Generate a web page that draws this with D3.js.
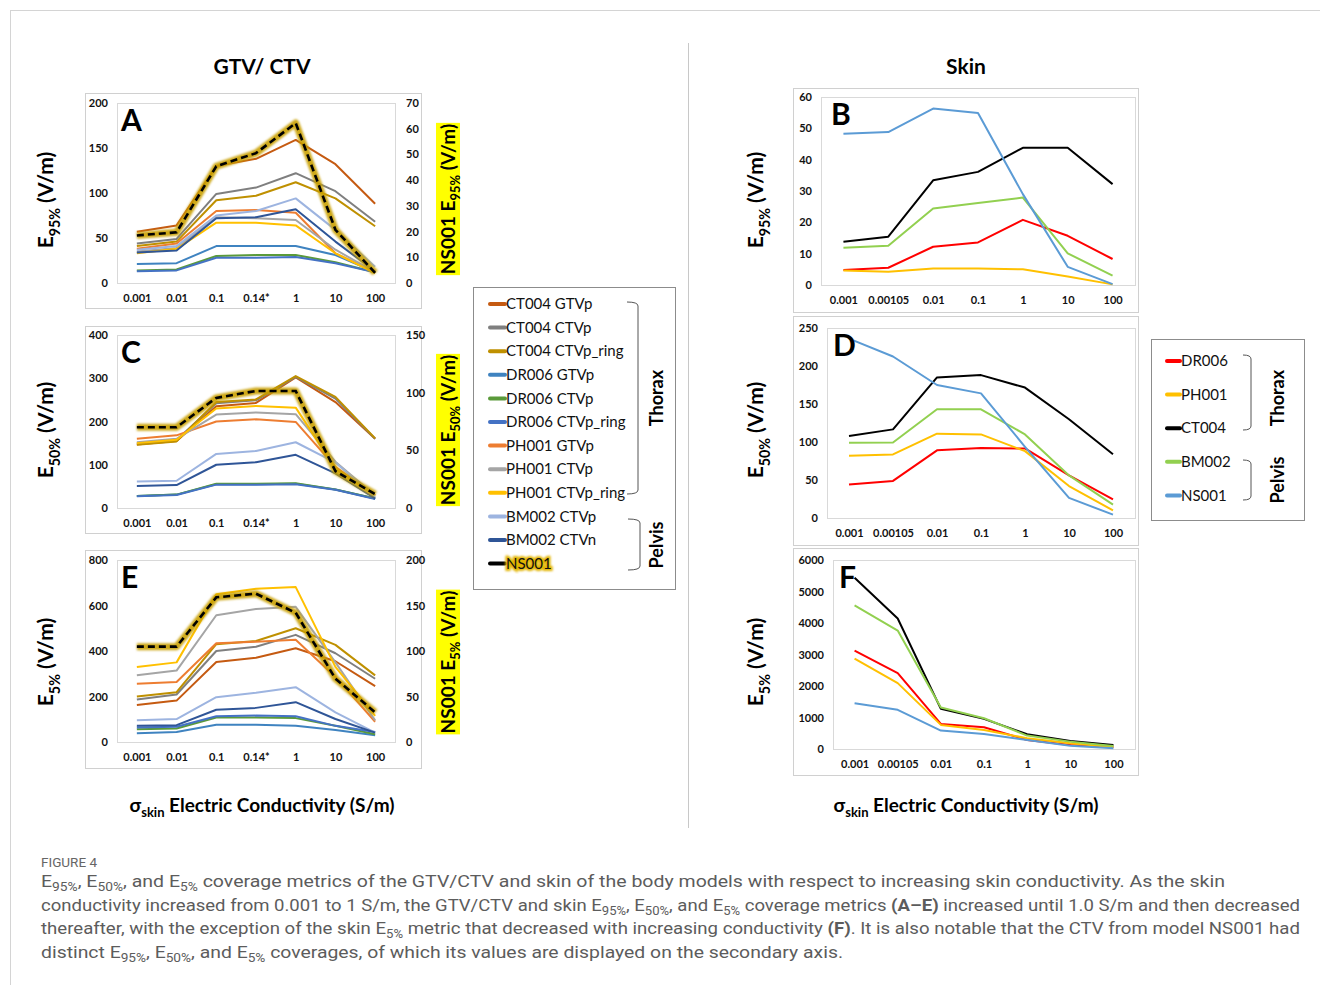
<!DOCTYPE html>
<html>
<head>
<meta charset="utf-8">
<script src="https://cdnjs.cloudflare.com/ajax/libs/d3/7.8.5/d3.min.js"></script>
<style>
  body { margin: 0; background: #fff; }
  svg { display: block; font-family: Lato, 'Open Sans', sans-serif; }
</style>
</head>
<body>
<div class="chart-container"></div>
<script>
// x categories (skin conductivity, S/m)
const tumorCats = ['0.001', '0.01', '0.1', '0.14*', '1', '10', '100'];
const skinCats = ['0.001', '0.00105', '0.01', '0.1', '1', '10', '100'];

// GTV / CTV series (legend order)
const tumorNames = ['CT004 GTVp', 'CT004 CTVp', 'CT004 CTVp_ring', 'DR006 GTVp', 'DR006 CTVp',
    'DR006 CTVp_ring', 'PH001 GTVp', 'PH001 CTVp', 'PH001 CTVp_ring', 'BM002 CTVp', 'BM002 CTVn'];
const tumorColors = ['#C55A11', '#7F7F7F', '#BF9000', '#3F83C0', '#5A9A3A',
    '#4472C4', '#ED7D31', '#A5A5A5', '#FFC000', '#9DB4E0', '#2F5597'];

// E95% (panel A), one row per tumor series
const tumorE95 = [
    [57, 64, 130, 138, 159, 132, 88],
    [44, 49, 99, 106, 122, 102, 68],
    [41, 46, 92, 97, 112, 94, 63],
    [21, 22, 41, 41, 41, 31, 12],
    [14, 15, 30, 31, 31, 23, 12],
    [13, 14, 28, 28, 29, 22, 12],
    [38, 44, 80, 81, 78, 33, 12],
    [35, 39, 73, 72, 70, 37, 12],
    [33, 38, 67, 67, 64, 33, 11],
    [37, 41, 75, 80, 94, 59, 18],
    [34, 36, 72, 73, 82, 46, 13]
];
const ns001E95 = [18.5, 19.7, 45.4, 50.5, 62.2, 20.7, 3.9];

// E50% (panel C)
const tumorE50 = [
    [147, 155, 235, 243, 302, 245, 160],
    [149, 157, 242, 249, 303, 253, 160],
    [146, 154, 245, 251, 305, 257, 161],
    [28, 31, 55, 55, 56, 43, 22],
    [28, 31, 56, 56, 57, 43, 22],
    [27, 30, 54, 54, 55, 42, 21],
    [160, 168, 200, 205, 199, 95, 29],
    [152, 160, 216, 221, 217, 107, 29],
    [150, 158, 230, 236, 232, 91, 29],
    [61, 63, 125, 132, 152, 105, 25],
    [51, 53, 100, 106, 123, 80, 22]
];
const ns001E50 = [70, 70, 95.5, 101.5, 101.5, 32, 12];

// E5% (panel E)
const tumorE5 = [
    [163, 182, 352, 370, 412, 355, 246],
    [187, 209, 400, 419, 471, 390, 278],
    [200, 219, 430, 444, 500, 427, 293],
    [39, 44, 76, 76, 71, 53, 30],
    [56, 59, 108, 108, 105, 71, 34],
    [64, 67, 113, 116, 113, 71, 44],
    [256, 264, 434, 441, 449, 286, 89],
    [293, 314, 557, 585, 594, 350, 95],
    [330, 350, 649, 674, 681, 330, 115],
    [96, 101, 197, 216, 241, 130, 41],
    [71, 74, 142, 150, 175, 101, 41]
];
const ns001E5 = [104.8, 104.8, 159, 163, 142, 69.6, 32.6];

// Skin series
const skinNames = ['DR006', 'PH001', 'CT004', 'BM002', 'NS001'];
const skinColors = ['#FF0000', '#FFC000', '#000000', '#92D050', '#5B9BD5'];
const skinE95 = [
    [4.8, 5.5, 12.2, 13.6, 20.8, 15.7, 8.3],
    [4.6, 4.2, 5.3, 5.3, 5.0, 2.7, 0.2],
    [13.8, 15.4, 33.4, 36.1, 43.8, 43.8, 32.2],
    [11.9, 12.5, 24.4, 26.2, 27.9, 10.1, 3.0],
    [48.3, 48.8, 56.3, 54.9, 29, 5.8, 0.3]
];
const skinE50 = [
    [44, 48.8, 89, 92, 91.5, 56, 24.6],
    [81.8, 83.6, 111, 110, 88, 42, 10],
    [108, 116.6, 185, 188, 171.6, 130, 84],
    [99, 99.4, 143, 143, 110, 56, 17.6],
    [236, 212.5, 175, 164, 93.7, 26.4, 4.4]
];
const skinE5 = [
    [3122, 2411, 797, 690, 287, 127, 64],
    [2867, 2092, 765, 605, 340, 180, 53],
    [5437, 4142, 1274, 956, 467, 255, 127],
    [4556, 3759, 1317, 977, 425, 234, 96],
    [1455, 1243, 584, 478, 287, 106, 21]
];

const W = 1320, H = 985;
const svg = d3.select('.chart-container')
    .append('svg')
    .attr('width', W)
    .attr('height', H);

// glow filter for the NS001 line
const defs = svg.append('defs');
defs.append('filter').attr('id', 'glow')
    .attr('x', '-10%').attr('y', '-10%').attr('width', '120%').attr('height', '120%')
    .append('feGaussianBlur').attr('stdDeviation', 1.3);

// outer frame + divider
svg.append('rect')
    .attr('x', 10.5).attr('y', 10.5).attr('width', 1330).attr('height', 1000)
    .attr('fill', 'none').attr('stroke', '#d4d4d4');
svg.append('line')
    .attr('x1', 688.5).attr('x2', 688.5).attr('y1', 43).attr('y2', 828)
    .attr('stroke', '#c8c8c8');

// text with subscripts: parts = [[text, isSub], ...]
function richText(sel, parts, subSize, shift) {
    let down = 0;
    parts.forEach(([t, sub]) => {
        const ts = sel.append('tspan').text(t);
        if (sub) {
            ts.attr('font-size', subSize).attr('dy', shift);
            down = shift;
        } else if (down) {
            ts.attr('dy', -down);
            down = 0;
        }
    });
    return sel;
}

function drawPanel(cfg) {
    const [bx0, by0, bx1, by1] = cfg.box;
    const [px0, py0, px1, py1] = cfg.plot;
    const g = svg.append('g');

    g.append('rect')
        .attr('x', bx0 + 0.5).attr('y', by0 + 0.5)
        .attr('width', bx1 - bx0).attr('height', by1 - by0)
        .attr('fill', '#fff').attr('stroke', '#d0d0d0');
    g.append('rect')
        .attr('x', px0 + 0.5).attr('y', py0 + 0.5)
        .attr('width', px1 - px0).attr('height', py1 - py0)
        .attr('fill', 'none').attr('stroke', '#d9d9d9');

    const x = d3.scalePoint().domain(cfg.cats).range([px0, px1]).padding(0.5);
    const y = d3.scaleLinear().domain([0, cfg.yMax]).range([py1, py0]);

    // Y axis (left)
    g.append('g')
        .attr('transform', `translate(${px0},0)`)
        .call(d3.axisLeft(y).tickValues(d3.range(0, cfg.yMax + 1, cfg.yStep))
            .tickFormat(d3.format('d')).tickSize(0).tickPadding(9))
        .call(a => a.select('.domain').remove());

    // X axis
    g.append('g')
        .attr('transform', `translate(0,${py1})`)
        .call(d3.axisBottom(x).tickSize(0).tickPadding(cfg.xPad || 11))
        .call(a => a.select('.domain').remove());

    g.selectAll('.tick text')
        .attr('font-family', 'Lato, sans-serif')
        .attr('font-weight', 'bold')
        .attr('font-size', 11)
        .attr('fill', '#111');

    const line = d3.line().x((d, i) => x(cfg.cats[i]));

    // Series
    cfg.series.forEach((s, k) => {
        g.append('path')
            .datum(s)
            .attr('fill', 'none')
            .attr('stroke', cfg.colors[k])
            .attr('stroke-width', 2)
            .attr('stroke-linejoin', 'round')
            .attr('d', line.y(d => y(d)));
    });

    // NS001 on secondary axis
    if (cfg.y2Max) {
        const y2 = d3.scaleLinear().domain([0, cfg.y2Max]).range([py1, py0]);
        g.append('g')
            .attr('transform', `translate(${px1},0)`)
            .call(d3.axisRight(y2).tickValues(d3.range(0, cfg.y2Max + 1, cfg.y2Step)).tickSize(0).tickPadding(11))
            .call(a => a.select('.domain').remove())
            .selectAll('text')
            .attr('font-family', 'Lato, sans-serif')
            .attr('font-weight', 'bold')
            .attr('font-size', 11)
            .attr('fill', '#111');

        const line2 = d3.line().x((d, i) => x(cfg.cats[i])).y(d => y2(d));
        g.append('path')
            .datum(cfg.ns001)
            .attr('fill', 'none')
            .attr('stroke', '#C9A000')
            .attr('stroke-opacity', 0.9)
            .attr('stroke-width', 7)
            .attr('stroke-linejoin', 'round')
            .attr('filter', 'url(#glow)')
            .attr('d', line2);
        g.append('path')
            .datum(cfg.ns001)
            .attr('fill', 'none')
            .attr('stroke', '#000')
            .attr('stroke-width', 2.6)
            .attr('stroke-dasharray', '7,4')
            .attr('d', line2);
    }

    // panel letter
    g.append('text')
        .attr('x', px0 + cfg.letterDx)
        .attr('y', py0 + 28)
        .attr('font-size', 30)
        .attr('font-weight', 'bold')
        .text(cfg.letter);
}

// rotated axis title with subscript, optional yellow highlight
function axisTitle(cx, cy, parts, size, highlight) {
    const g = svg.append('g').attr('transform', `translate(${cx},${cy}) rotate(-90)`);
    const t = g.append('text')
        .attr('text-anchor', 'middle')
        .attr('dy', '0.35em')
        .attr('font-size', size)
        .attr('font-weight', 'bold');
    richText(t, parts, size * 0.68, size * 0.3);
    if (highlight) {
        const bb = t.node().getBBox();
        g.insert('rect', 'text')
            .attr('x', bb.x - 1).attr('y', -12)
            .attr('width', bb.width + 2).attr('height', 24)
            .attr('fill', '#FFFF00');
    }
}

// ---- left column : GTV / CTV ----
drawPanel({
    box: [85, 93, 421, 308], plot: [117, 103, 395, 283], cats: tumorCats,
    yMax: 200, yStep: 50, y2Max: 70, y2Step: 10,
    series: tumorE95, colors: tumorColors, ns001: ns001E95, letter: 'A', letterDx: 4
});
drawPanel({
    box: [85, 326, 421, 533], plot: [117, 335, 395, 508], cats: tumorCats,
    yMax: 400, yStep: 100, y2Max: 150, y2Step: 50,
    series: tumorE50, colors: tumorColors, ns001: ns001E50, letter: 'C', letterDx: 4
});
drawPanel({
    box: [85, 550, 421, 768], plot: [117, 560, 395, 742], cats: tumorCats,
    yMax: 800, yStep: 200, y2Max: 200, y2Step: 50,
    series: tumorE5, colors: tumorColors, ns001: ns001E5, letter: 'E', letterDx: 4
});

// ---- right column : skin ----
drawPanel({
    box: [793, 88, 1138, 312], plot: [821, 97, 1135, 285], cats: skinCats,
    yMax: 60, yStep: 10, series: skinE95, colors: skinColors, letter: 'B', letterDx: 10
});
drawPanel({
    box: [793, 316, 1138, 545], plot: [827, 328, 1135, 518], cats: skinCats,
    yMax: 250, yStep: 50, series: skinE50, colors: skinColors, letter: 'D', letterDx: 6
});
drawPanel({
    box: [793, 548, 1138, 775], plot: [833, 560, 1135, 749], cats: skinCats,
    yMax: 6000, yStep: 1000, series: skinE5, colors: skinColors, letter: 'F', letterDx: 6
});

// column titles
svg.append('text').attr('x', 262).attr('y', 74).attr('text-anchor', 'middle')
    .attr('font-size', 21).attr('font-weight', 'bold').text('GTV/ CTV');
svg.append('text').attr('x', 966).attr('y', 74).attr('text-anchor', 'middle')
    .attr('font-size', 21).attr('font-weight', 'bold').text('Skin');

// y titles
const e95 = [['E', false], ['95%', true], [' (V/m)', false]];
const e50 = [['E', false], ['50%', true], [' (V/m)', false]];
const e5 = [['E', false], ['5%', true], [' (V/m)', false]];
axisTitle(46, 200, e95, 21);
axisTitle(46, 430, e50, 21);
axisTitle(46, 662, e5, 21);
axisTitle(756, 200, e95, 21);
axisTitle(756, 430, e50, 21);
axisTitle(756, 662, e5, 21);
axisTitle(448, 199, [['NS001 ', false]].concat(e95), 19, true);
axisTitle(448, 430, [['NS001 ', false]].concat(e50), 19, true);
axisTitle(448, 662, [['NS001 ', false]].concat(e5), 19, true);

// x titles
[262, 966].forEach(cx => {
    const t = svg.append('text').attr('x', cx).attr('y', 812).attr('text-anchor', 'middle')
        .attr('font-size', 19).attr('font-weight', 'bold');
    richText(t, [['σ', false], ['skin', true], [' Electric Conductivity (S/m)', false]], 13, 5);
});

// bracket helper for legends
function bracket(x, y0, y1, len) {
    svg.append('path')
        .attr('d', `M${x - len},${y0} Q${x},${y0} ${x},${y0 + 4} L${x},${y1 - 4} Q${x},${y1} ${x - len},${y1}`)
        .attr('fill', 'none').attr('stroke', '#555').attr('stroke-width', 1);
}
function groupLabel(cx, cy, label) {
    svg.append('text')
        .attr('transform', `translate(${cx},${cy}) rotate(-90)`)
        .attr('text-anchor', 'middle').attr('dy', '0.35em')
        .attr('font-size', 18).attr('font-weight', 'bold').text(label);
}

// legend 1 (GTV / CTV)
svg.append('rect').attr('x', 473.5).attr('y', 287.5).attr('width', 202).attr('height', 302)
    .attr('fill', '#fff').attr('stroke', '#8c8c8c');
const legend1 = tumorNames.concat(['NS001']);
const legend1Colors = tumorColors.concat(['#000']);
legend1.forEach((name, i) => {
    const yy = 304 + i * 23.6;
    svg.append('line').attr('x1', 490).attr('x2', 505).attr('y1', yy).attr('y2', yy)
        .attr('stroke', legend1Colors[i]).attr('stroke-width', 4).attr('stroke-linecap', 'round');
    if (name === 'NS001') {
        svg.append('text').attr('x', 506).attr('y', yy).attr('dy', '0.35em')
            .attr('font-size', 15).attr('stroke', '#E2B400').attr('stroke-width', 4)
            .attr('fill', '#E2B400').attr('filter', 'url(#glow)').text(name);
    }
    svg.append('text').attr('x', 506).attr('y', yy).attr('dy', '0.35em')
        .attr('font-size', 15).attr('fill', '#111').text(name);
});
bracket(638, 302, 494, 11);
bracket(640, 519, 570, 12);
groupLabel(657, 398, 'Thorax');
groupLabel(657, 545, 'Pelvis');

// legend 2 (skin)
svg.append('rect').attr('x', 1151.5).attr('y', 339.5).attr('width', 153).attr('height', 181)
    .attr('fill', '#fff').attr('stroke', '#8c8c8c');
skinNames.forEach((name, i) => {
    const yy = 361 + i * 33.6;
    svg.append('line').attr('x1', 1167).attr('x2', 1180).attr('y1', yy).attr('y2', yy)
        .attr('stroke', skinColors[i]).attr('stroke-width', 4).attr('stroke-linecap', 'round');
    svg.append('text').attr('x', 1181).attr('y', yy).attr('dy', '0.35em')
        .attr('font-size', 15).attr('fill', '#111').text(name);
});
bracket(1251, 355, 430, 8);
bracket(1251, 460, 500, 8);
groupLabel(1278, 398, 'Thorax');
groupLabel(1278, 480, 'Pelvis');

// caption
svg.append('text').attr('x', 41).attr('y', 867)
    .attr('font-family', 'Roboto, sans-serif').attr('font-size', 13.5)
    .attr('fill', '#666').text('FIGURE 4');

const captionLines = [
    { len: 1184, parts: [['E', 0], ['95%', 1], [', E', 0], ['50%', 1], [', and E', 0], ['5%', 1],
        [' coverage metrics of the GTV/CTV and skin of the body models with respect to increasing skin conductivity. As the skin', 0]] },
    { len: 1259, parts: [['conductivity increased from 0.001 to 1 S/m, the GTV/CTV and skin E', 0], ['95%', 1], [', E', 0], ['50%', 1],
        [', and E', 0], ['5%', 1], [' coverage metrics ', 0], ['(A–E)', 2], [' increased until 1.0 S/m and then decreased', 0]] },
    { len: 1259, parts: [['thereafter, with the exception of the skin E', 0], ['5%', 1],
        [' metric that decreased with increasing conductivity ', 0], ['(F)', 2],
        ['. It is also notable that the CTV from model NS001 had', 0]] },
    { len: 802, parts: [['distinct E', 0], ['95%', 1], [', E', 0], ['50%', 1], [', and E', 0], ['5%', 1],
        [' coverages, of which its values are displayed on the secondary axis.', 0]] }
];
captionLines.forEach((ln, i) => {
    const t = svg.append('text')
        .attr('x', 41).attr('y', 887 + i * 23.7)
        .attr('font-family', 'Roboto, sans-serif').attr('font-size', 17)
        .attr('fill', '#5c5c5c')
        .attr('textLength', ln.len).attr('lengthAdjust', 'spacingAndGlyphs');
    let down = false;
    ln.parts.forEach(([s, kind]) => {
        const ts = t.append('tspan').text(s);
        if (kind === 1) {
            ts.attr('font-size', 12).attr('dy', 4);
            down = true;
        } else {
            if (down) { ts.attr('dy', -4); down = false; }
            if (kind === 2) ts.attr('font-weight', 'bold');
        }
    });
});
</script>
</body>
</html>
